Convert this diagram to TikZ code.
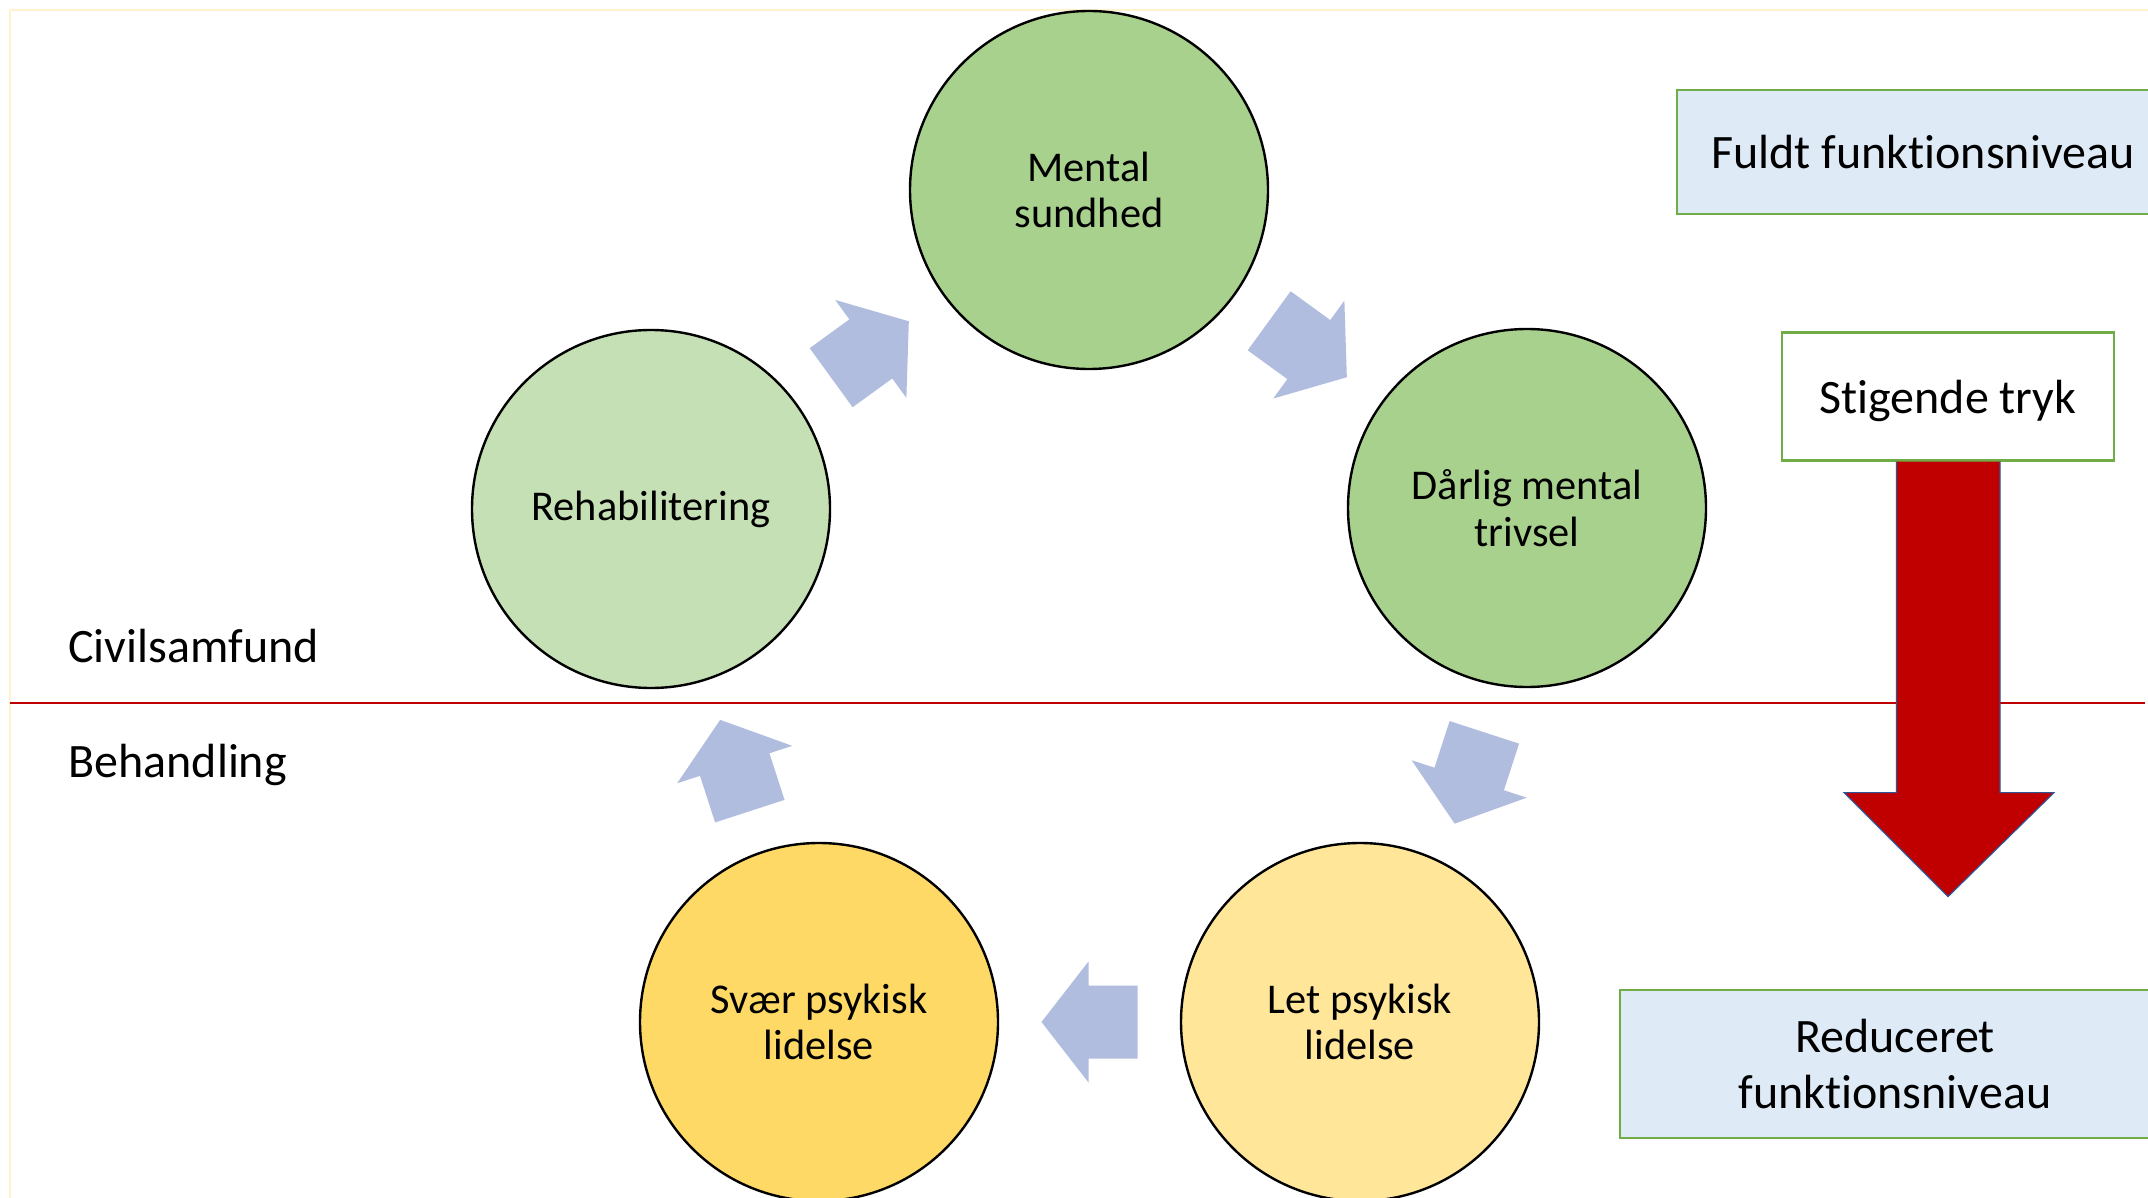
\documentclass[tikz,border=0pt]{standalone}
\usepackage{fontspec}
\setmainfont[Ligatures=NoCommon,RawFeature={-liga;-clig}]{Carlito}
\usetikzlibrary{calc}
\definecolor{gdark}{HTML}{A9D18E}
\definecolor{glight}{HTML}{C5E0B4}
\definecolor{ydark}{HTML}{FFD966}
\definecolor{ylight}{HTML}{FFE699}
\definecolor{arrblue}{HTML}{B0BDDF}
\definecolor{boxblue}{HTML}{DEEBF7}
\definecolor{boxgreen}{HTML}{70AD47}
\definecolor{darkred}{HTML}{C00000}
\definecolor{outlineblue}{HTML}{2F5597}
\definecolor{framey}{HTML}{FFF2CC}
\begin{document}
\begin{tikzpicture}[x=0.5pt,y=-0.5pt,
  stage/.style={circle, draw=black, line width=1.2pt, minimum size=179pt, inner sep=0pt, align=center, font=\fontsize{21.2}{23.3}\selectfont},
  levelbox/.style={draw=boxgreen, line width=1.1pt, fill=boxblue, align=center, inner sep=0pt, font=\fontsize{24}{28}\selectfont},
  sidelabel/.style={anchor=west, inner sep=0pt, font=\fontsize{24}{28}\selectfont},
  cyclearrow/.pic={\fill[arrblue] (-48,-36.5) -- (1,-36.5) -- (1,-60.5) -- (48,0) -- (1,60.5) -- (1,36.5) -- (-48,36.5) -- cycle;}
]
\clip (0,0) rectangle (2148,1198);
\fill[white] (0,0) rectangle (2148,1198);
\draw[framey, line width=1.2pt] (10,1220) -- (10,10) -- (2170,10);
% dividing line
\coordinate (lineL) at (10,703);
\coordinate (lineR) at (2145,703);
\draw[darkred, line width=0.9pt] (lineL) -- (lineR);
% side labels
\node[sidelabel] (civ) at (68,646) {Civilsamfund};
\node[sidelabel] (beh) at (68,765) {Behandling};
% cycle
\node[stage, fill=gdark] (ment) at (1089,190) {Mental\\sundhed};
\node[stage, fill=gdark] (darl) at (1527,508) {Dårlig mental\\trivsel};
\node[stage, fill=ylight] (let) at (1360,1022) {Let psykisk\\lidelse};
\node[stage, fill=ydark] (svaer) at (819,1022) {Svær psykisk\\lidelse};
\node[stage, fill=glight] (rehab) at (651,509) {Rehabilitering};
\pic[rotate=-36] at ($(ment)!0.5!(darl)$) {cyclearrow};
\pic[rotate=-108] at ($(darl)!0.5!(let)+(26,13)$) {cyclearrow};
\pic[rotate=180] at ($(let)!0.5!(svaer)$) {cyclearrow};
\pic[rotate=108] at ($(svaer)!0.5!(rehab)$) {cyclearrow};
\pic[rotate=36] at ($(rehab)!0.5!(ment)$) {cyclearrow};
% right side
\node[levelbox, minimum width=246pt, minimum height=62pt] (full) at (1923,152) {Fuldt funktionsniveau};
\node[levelbox, fill=white, minimum width=166pt, minimum height=64pt, text height=22pt, text depth=4.8pt] (stig) at (1948,396.5) {Stigende tryk};
\node[levelbox, minimum width=275pt, minimum height=74pt] (red) at (1895,1064) {Reduceret\\[0pt]funktionsniveau};
\fill[darkred, draw=outlineblue, line width=0.6pt]
  ($(stig.south)+(-51.5,0)$) -- ($(stig.south)+(-51.5,331)$) -- ($(stig.south)+(-104,331)$)
  -- ($(stig.south)+(0,435)$) -- ($(stig.south)+(106,331)$) -- ($(stig.south)+(52,331)$)
  -- ($(stig.south)+(52,0)$);
\end{tikzpicture}
\end{document}
